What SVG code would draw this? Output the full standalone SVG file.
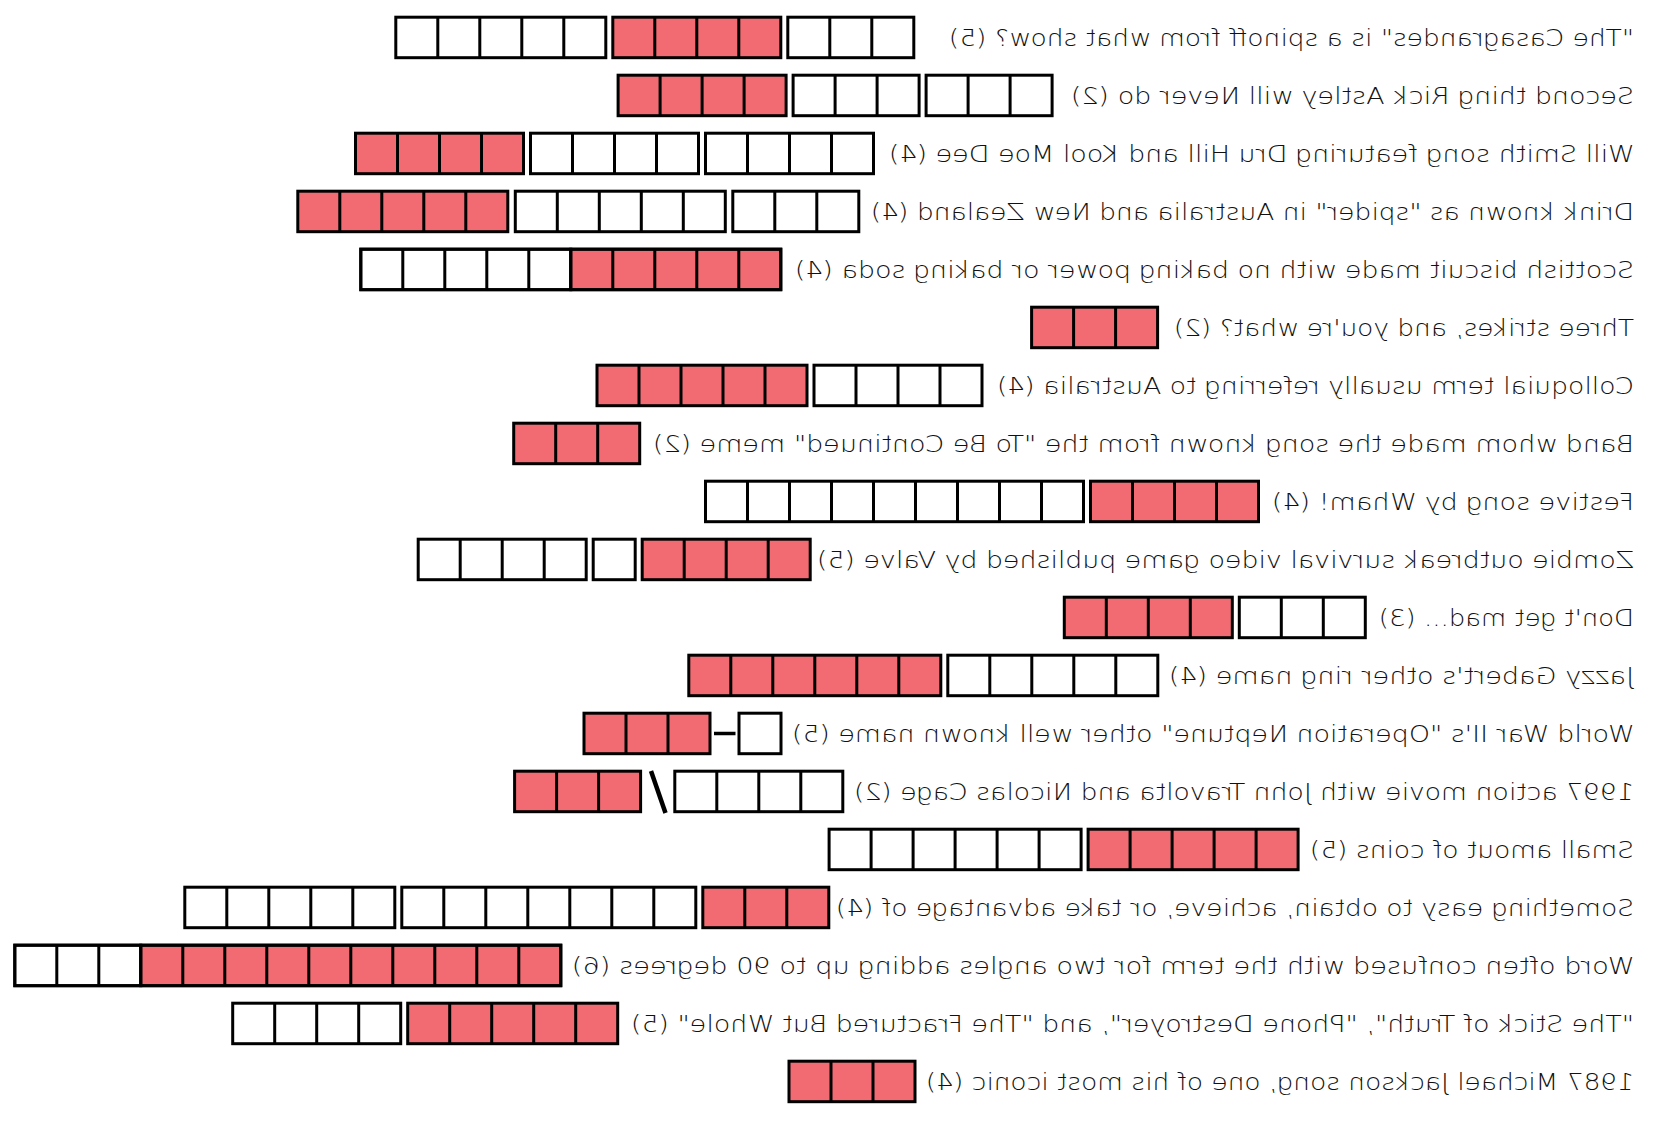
<svg xmlns="http://www.w3.org/2000/svg" xmlns:xlink="http://www.w3.org/1999/xlink" width="1654" height="1122" viewBox="0 0 1654 1122">
<style>
.w{fill:#ffffff;stroke:#000;stroke-width:3}
.r{fill:#F26B73;stroke:#000;stroke-width:3}
.dv{fill:none;stroke:#000;stroke-width:3}
.t{font-family:"DejaVu Sans","Liberation Sans",sans-serif;font-size:23px;font-weight:200;fill:#111}
.mk{stroke:#000;fill:none}
</style>
<defs>
<path id="d3" class="dv" d="M42 0v40.5M84 0v40.5"/>
<path id="d4" class="dv" d="M42 0v40.5M84 0v40.5M126 0v40.5"/>
<path id="d5" class="dv" d="M42 0v40.5M84 0v40.5M126 0v40.5M168 0v40.5"/>
<path id="d6" class="dv" d="M42 0v40.5M84 0v40.5M126 0v40.5M168 0v40.5M210 0v40.5"/>
<path id="d7" class="dv" d="M42 0v40.5M84 0v40.5M126 0v40.5M168 0v40.5M210 0v40.5M252 0v40.5"/>
<path id="d9" class="dv" d="M42 0v40.5M84 0v40.5M126 0v40.5M168 0v40.5M210 0v40.5M252 0v40.5M294 0v40.5M336 0v40.5"/>
<path id="d10" class="dv" d="M42 0v40.5M84 0v40.5M126 0v40.5M168 0v40.5M210 0v40.5M252 0v40.5M294 0v40.5M336 0v40.5M378 0v40.5"/>
<path id="d13" class="dv" d="M42 0v40.5M84 0v40.5M126 0v40.5M168 0v40.5M210 0v40.5M252 0v40.5M294 0v40.5M336 0v40.5M378 0v40.5M420 0v40.5M462 0v40.5M504 0v40.5"/>
</defs>
<rect width="1654" height="1122" fill="#fff"/>

<g id="row1">
<g transform="translate(395.8,17.2)"><rect class="w" width="210" height="40.5"/><use xlink:href="#d5"/></g>
<g transform="translate(612.8,17.2)"><rect class="r" width="168" height="40.5"/><use xlink:href="#d4"/></g>
<g transform="translate(787.8,17.2)"><rect class="w" width="126" height="40.5"/><use xlink:href="#d3"/></g>
<text class="t" transform="scale(-1,1)" x="-1634" y="45.7" textLength="685" lengthAdjust="spacingAndGlyphs">"The Casagrandes" is a spinoff from what show? (5)</text>
</g>
<g id="row2">
<g transform="translate(618.1,75.2)"><rect class="r" width="168" height="40.5"/><use xlink:href="#d4"/></g>
<g transform="translate(793.1,75.2)"><rect class="w" width="126" height="40.5"/><use xlink:href="#d3"/></g>
<g transform="translate(926.1,75.2)"><rect class="w" width="126" height="40.5"/><use xlink:href="#d3"/></g>
<text class="t" transform="scale(-1,1)" x="-1634" y="103.7" textLength="563" lengthAdjust="spacingAndGlyphs">Second thing Rick Astley will Never do (2)</text>
</g>
<g id="row3">
<g transform="translate(355.5,133.2)"><rect class="r" width="168" height="40.5"/><use xlink:href="#d4"/></g>
<g transform="translate(530.5,133.2)"><rect class="w" width="168" height="40.5"/><use xlink:href="#d4"/></g>
<g transform="translate(705.5,133.2)"><rect class="w" width="168" height="40.5"/><use xlink:href="#d4"/></g>
<text class="t" transform="scale(-1,1)" x="-1634" y="161.7" textLength="745" lengthAdjust="spacingAndGlyphs">Will Smith song featuring Dru Hill and Kool Moe Dee (4)</text>
</g>
<g id="row4">
<g transform="translate(297.8,191.2)"><rect class="r" width="210" height="40.5"/><use xlink:href="#d5"/></g>
<g transform="translate(515.3,191.2)"><rect class="w" width="210" height="40.5"/><use xlink:href="#d5"/></g>
<g transform="translate(732.8,191.2)"><rect class="w" width="126" height="40.5"/><use xlink:href="#d3"/></g>
<text class="t" transform="scale(-1,1)" x="-1634" y="219.7" textLength="763" lengthAdjust="spacingAndGlyphs">Drink known as "spider" in Australia and New Zealand (4)</text>
</g>
<g id="row5">
<g transform="translate(360.8,249.2)"><rect class="w" width="210" height="40.5"/><rect class="r" x="210" width="210" height="40.5"/><rect width="420" height="40.5" fill="none" stroke="#000" stroke-width="3"/><use xlink:href="#d10"/></g>
<text class="t" transform="scale(-1,1)" x="-1634" y="277.7" textLength="839" lengthAdjust="spacingAndGlyphs">Scottish biscuit made with no baking power or baking soda (4)</text>
</g>
<g id="row6">
<g transform="translate(1031.6,307.2)"><rect class="r" width="126" height="40.5"/><use xlink:href="#d3"/></g>
<text class="t" transform="scale(-1,1)" x="-1634" y="335.7" textLength="460" lengthAdjust="spacingAndGlyphs">Three strikes, and you're what? (2)</text>
</g>
<g id="row7">
<g transform="translate(597,365.2)"><rect class="r" width="210" height="40.5"/><use xlink:href="#d5"/></g>
<g transform="translate(814,365.2)"><rect class="w" width="168" height="40.5"/><use xlink:href="#d4"/></g>
<text class="t" transform="scale(-1,1)" x="-1634" y="393.7" textLength="637" lengthAdjust="spacingAndGlyphs">Colloquial term usually referring to Australia (4)</text>
</g>
<g id="row8">
<g transform="translate(513.7,423.2)"><rect class="r" width="126" height="40.5"/><use xlink:href="#d3"/></g>
<text class="t" transform="scale(-1,1)" x="-1634" y="451.7" textLength="981" lengthAdjust="spacingAndGlyphs">Band whom made the song known from the "To Be Continued" meme (2)</text>
</g>
<g id="row9">
<g transform="translate(705.5,481.2)"><rect class="w" width="378" height="40.5"/><use xlink:href="#d9"/></g>
<g transform="translate(1090.5,481.2)"><rect class="r" width="168" height="40.5"/><use xlink:href="#d4"/></g>
<text class="t" transform="scale(-1,1)" x="-1634" y="509.7" textLength="362" lengthAdjust="spacingAndGlyphs">Festive song by Wham! (4)</text>
</g>
<g id="row10">
<g transform="translate(418.2,539.2)"><rect class="w" width="168" height="40.5"/><use xlink:href="#d4"/></g>
<g transform="translate(593.2,539.2)"><rect class="w" width="42" height="40.5"/></g>
<g transform="translate(642.2,539.2)"><rect class="r" width="168" height="40.5"/><use xlink:href="#d4"/></g>
<text class="t" transform="scale(-1,1)" x="-1634" y="567.7" textLength="817" lengthAdjust="spacingAndGlyphs">Zombie outbreak survival video game published by Valve (5)</text>
</g>
<g id="row11">
<g transform="translate(1064.3,597.2)"><rect class="r" width="168" height="40.5"/><use xlink:href="#d4"/></g>
<g transform="translate(1239.3,597.2)"><rect class="w" width="126" height="40.5"/><use xlink:href="#d3"/></g>
<text class="t" transform="scale(-1,1)" x="-1634" y="625.7" textLength="255" lengthAdjust="spacingAndGlyphs">Don't get mad... (3)</text>
</g>
<g id="row12">
<g transform="translate(688.8,655.2)"><rect class="r" width="252" height="40.5"/><use xlink:href="#d6"/></g>
<g transform="translate(947.8,655.2)"><rect class="w" width="210" height="40.5"/><use xlink:href="#d5"/></g>
<text class="t" transform="scale(-1,1)" x="-1634" y="683.7" textLength="465" lengthAdjust="spacingAndGlyphs">Jazzy Gabert's other ring name (4)</text>
</g>
<g id="row13">
<g transform="translate(584,713.2)"><rect class="r" width="126" height="40.5"/><use xlink:href="#d3"/></g>
<line class="mk" x1="714" y1="733.5" x2="735.5" y2="733.5" stroke-width="3.5"/>
<g transform="translate(739,713.2)"><rect class="w" width="42" height="40.5"/></g>
<text class="t" transform="scale(-1,1)" x="-1634" y="741.7" textLength="842" lengthAdjust="spacingAndGlyphs">World War II's "Operation Neptune" other well known name (5)</text>
</g>
<g id="row14">
<g transform="translate(514.6,771.2)"><rect class="r" width="126" height="40.5"/><use xlink:href="#d3"/></g>
<line class="mk" x1="651" y1="771" x2="665.5" y2="813" stroke-width="4.5"/>
<g transform="translate(674.8,771.2)"><rect class="w" width="168" height="40.5"/><use xlink:href="#d4"/></g>
<text class="t" transform="scale(-1,1)" x="-1634" y="799.7" textLength="780" lengthAdjust="spacingAndGlyphs">1997 action movie with John Travolta and Nicolas Cage (2)</text>
</g>
<g id="row15">
<g transform="translate(829.1,829.2)"><rect class="w" width="252" height="40.5"/><use xlink:href="#d6"/></g>
<g transform="translate(1088.1,829.2)"><rect class="r" width="210" height="40.5"/><use xlink:href="#d5"/></g>
<text class="t" transform="scale(-1,1)" x="-1634" y="857.7" textLength="324" lengthAdjust="spacingAndGlyphs">Small amout of coins (5)</text>
</g>
<g id="row16">
<g transform="translate(184.8,887.2)"><rect class="w" width="210" height="40.5"/><use xlink:href="#d5"/></g>
<g transform="translate(401.8,887.2)"><rect class="w" width="294" height="40.5"/><use xlink:href="#d7"/></g>
<g transform="translate(702.8,887.2)"><rect class="r" width="126" height="40.5"/><use xlink:href="#d3"/></g>
<text class="t" transform="scale(-1,1)" x="-1634" y="915.7" textLength="798" lengthAdjust="spacingAndGlyphs">Something easy to obtain, achieve, or take advantage of (4)</text>
</g>
<g id="row17">
<g transform="translate(14.8,945.2)"><rect class="w" width="126" height="40.5"/><rect class="r" x="126" width="420" height="40.5"/><rect width="546" height="40.5" fill="none" stroke="#000" stroke-width="3"/><use xlink:href="#d13"/></g>
<text class="t" transform="scale(-1,1)" x="-1634" y="973.7" textLength="1062" lengthAdjust="spacingAndGlyphs">Word often confused with the term for two angles adding up to 90 degrees (6)</text>
</g>
<g id="row18">
<g transform="translate(232.7,1003.2)"><rect class="w" width="168" height="40.5"/><use xlink:href="#d4"/></g>
<g transform="translate(407.7,1003.2)"><rect class="r" width="210" height="40.5"/><use xlink:href="#d5"/></g>
<text class="t" transform="scale(-1,1)" x="-1634" y="1031.7" textLength="1003" lengthAdjust="spacingAndGlyphs">"The Stick of Truth", "Phone Destroyer", and "The Fractured But Whole" (5)</text>
</g>
<g id="row19">
<g transform="translate(789,1061.2)"><rect class="r" width="126" height="40.5"/><use xlink:href="#d3"/></g>
<text class="t" transform="scale(-1,1)" x="-1634" y="1089.7" textLength="708" lengthAdjust="spacingAndGlyphs">1987 Michael Jackson song, one of his most iconic (4)</text>
</g>
<g id="connectors"/>
</svg>
